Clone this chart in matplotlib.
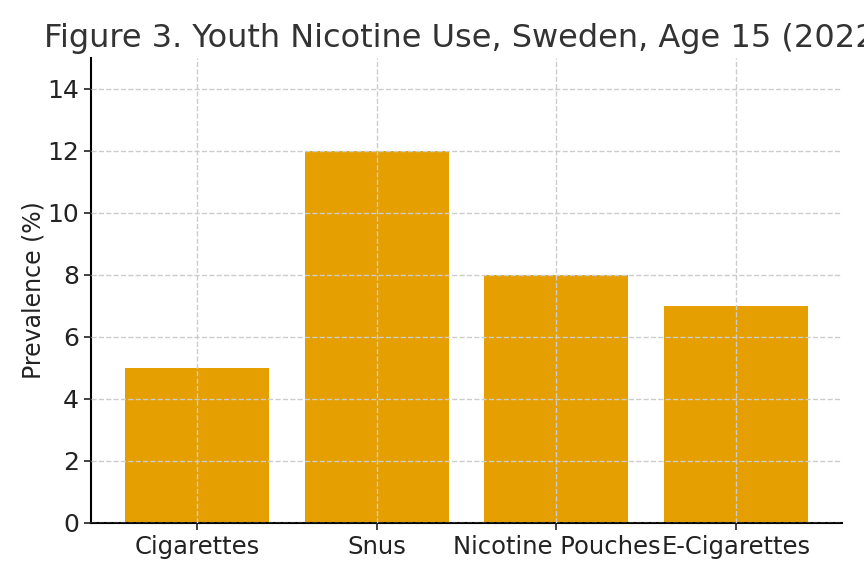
import matplotlib
matplotlib.use("Agg")
import matplotlib.pyplot as plt

# Data
categories = ["Cigarettes", "Snus", "Nicotine Pouches", "E-Cigarettes"]
prevalence = [5, 12, 8, 7]

fig_dpi = 100
fig = plt.figure(figsize=(864 / fig_dpi, 576 / fig_dpi), dpi=fig_dpi)
ax = fig.add_axes([91 / 864, 1 - 523 / 576, (842 - 91) / 864, (523 - 58) / 576])

ax.bar(categories, prevalence, width=0.8, color="#E69F00")
ax.set_ylim(0, 15)
ax.set_yticks(range(0, 15, 2))
ax.set_axisbelow(False)
ax.grid(True, linestyle="--", color="#cccccc", linewidth=1.0)

ax.spines["top"].set_visible(False)
ax.spines["right"].set_visible(False)
ax.spines["left"].set_linewidth(1.5)
ax.spines["bottom"].set_linewidth(1.5)
ax.tick_params(axis="both", labelsize=17.5, width=1.2, length=5, colors="#222222")
ax.tick_params(axis="y", labelsize=18)

ax.set_ylabel("Prevalence (%)", fontsize=17, color="#222222", labelpad=1)
ax.set_title("Figure 3. Youth Nicotine Use, Sweden, Age 15 (2022)", fontsize=23,
             color="#333333", pad=8)

fig.savefig("out.png", dpi=fig_dpi)
